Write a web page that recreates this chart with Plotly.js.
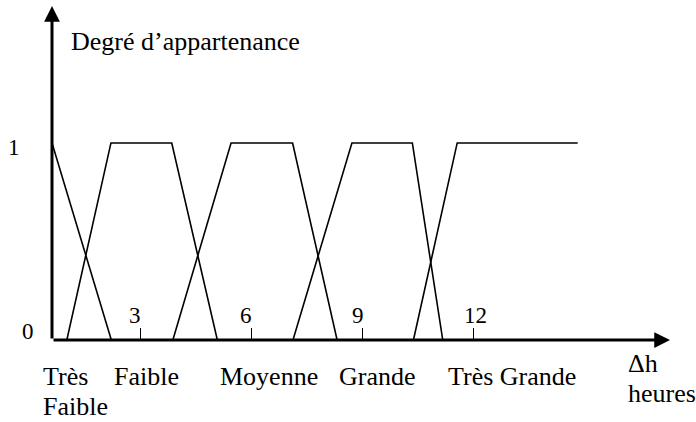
<!DOCTYPE html>
<html>
<head>
<meta charset="utf-8">
<script src="https://cdn.plot.ly/plotly-3.0.1.min.js"></script>
<style>html,body{margin:0;padding:0;background:#fff;}#chart{width:696px;height:422px;}</style>
</head>
<body>
<div id="chart"></div>
<script>
// Membership functions (x in hours, y = degree of membership)
const tresFaibleX = [0.62, 2.22];
const tresFaibleY = [1, 0];
const faibleX = [1.02, 2.21, 3.85, 5.08];
const faibleY = [0, 1, 1, 0];
const moyenneX = [3.88, 5.45, 7.11, 8.31];
const moyenneY = [0, 1, 1, 0];
const grandeX = [7.12, 8.71, 10.34, 11.16];
const grandeY = [0, 1, 1, 0];
const tresGrandeX = [10.37, 11.55, 14.8];
const tresGrandeY = [0, 1, 1];

const tickVals = [3, 6, 9, 12];
const tickText = ['3', '6', '9', '12'];
const yTickVals = [0, 1];
const yTickText = ['0', '1'];

const xMin = 0.62, xMax = 17.29;
const yMin = 0, yMax = 1.695;

const W = 696, H = 422;
const M = {l: 52, r: 26, t: 6, b: 82};
const plotW = W - M.l - M.r, plotH = H - M.t - M.b;
const px = p => (p - M.l) / plotW;          // pixel -> paper x
const py = p => (H - M.b - p) / plotH;      // pixel -> paper y

const FONT = '"Liberation Serif", serif';
const lineStyle = {color: '#000', width: 1.6};

const traces = [
  [tresFaibleX, tresFaibleY, 'Très Faible'],
  [faibleX, faibleY, 'Faible'],
  [moyenneX, moyenneY, 'Moyenne'],
  [grandeX, grandeY, 'Grande'],
  [tresGrandeX, tresGrandeY, 'Très Grande']
].map(([x, y, n]) => ({x, y, name: n, type: 'scatter', mode: 'lines', line: lineStyle, hoverinfo: 'skip', cliponaxis: false}));

const annotations = [];
// axes with arrow heads
annotations.push({x: xMax, y: 0, ax: xMin, ay: 0, xref: 'x', yref: 'y', axref: 'x', ayref: 'y',
  showarrow: true, arrowhead: 2, arrowsize: 1.05, arrowwidth: 3, arrowcolor: '#000', text: ''});
annotations.push({x: xMin, y: yMax, ax: xMin, ay: 0, xref: 'x', yref: 'y', axref: 'x', ayref: 'y',
  showarrow: true, arrowhead: 2, arrowsize: 1.05, arrowwidth: 3, arrowcolor: '#000', text: ''});

// x tick numbers above the axis
tickVals.forEach((v, i) => {
  annotations.push({x: v, xref: 'x', y: py(315), yref: 'paper', text: tickText[i], showarrow: false,
    xanchor: 'center', yanchor: 'middle', xshift: i < 3 ? -5 : 2, font: {family: FONT, size: 23, color: '#000'}});
});
// y tick labels
const yLabPx = [28, 14];
yTickVals.forEach((v, i) => {
  annotations.push({x: px(yLabPx[i]), xref: 'paper', y: v, yref: 'y', text: yTickText[i], showarrow: false,
    xanchor: 'center', yanchor: 'middle', yshift: i === 0 ? 9 : -5, font: {family: FONT, size: 23, color: '#000'}});
});

// titles and category labels
const txt = (t, xp, yp, xanchor) => ({x: px(xp), y: py(yp), xref: 'paper', yref: 'paper', text: t, showarrow: false,
  xanchor: xanchor, yanchor: 'middle', font: {family: FONT, size: 26, color: '#000'}});
annotations.push(txt('Degré d\u2019appartenance', 69, 41.5, 'left'));
annotations.push(txt('Très', 41, 376.5, 'left'));
annotations.push(txt('Faible', 41, 406.5, 'left'));
annotations.push(txt('Faible', 146.5, 376.5, 'center'));
annotations.push(txt('Moyenne', 269, 376.5, 'center'));
annotations.push(txt('Grande', 378, 376.5, 'center'));
annotations.push(txt('Très Grande', 512, 376.5, 'center'));
annotations.push(txt('\u0394h', 626, 363, 'left'));
annotations.push(txt('heures', 626, 393, 'left'));

const layout = {
  width: W, height: H,
  margin: M,
  paper_bgcolor: '#fff', plot_bgcolor: '#fff',
  showlegend: false,
  xaxis: {range: [xMin, xMax], showgrid: false, zeroline: false, showline: false,
    tickmode: 'array', tickvals: tickVals, ticktext: tickText, showticklabels: false,
    ticks: 'inside', ticklen: 12, tickwidth: 1, tickcolor: '#000', fixedrange: true},
  yaxis: {range: [yMin, yMax], showgrid: false, zeroline: false, showline: false,
    showticklabels: false, ticks: '', fixedrange: true},
  annotations: annotations
};

Plotly.newPlot('chart', traces, layout, {displayModeBar: false, staticPlot: true});
</script>
</body>
</html>
